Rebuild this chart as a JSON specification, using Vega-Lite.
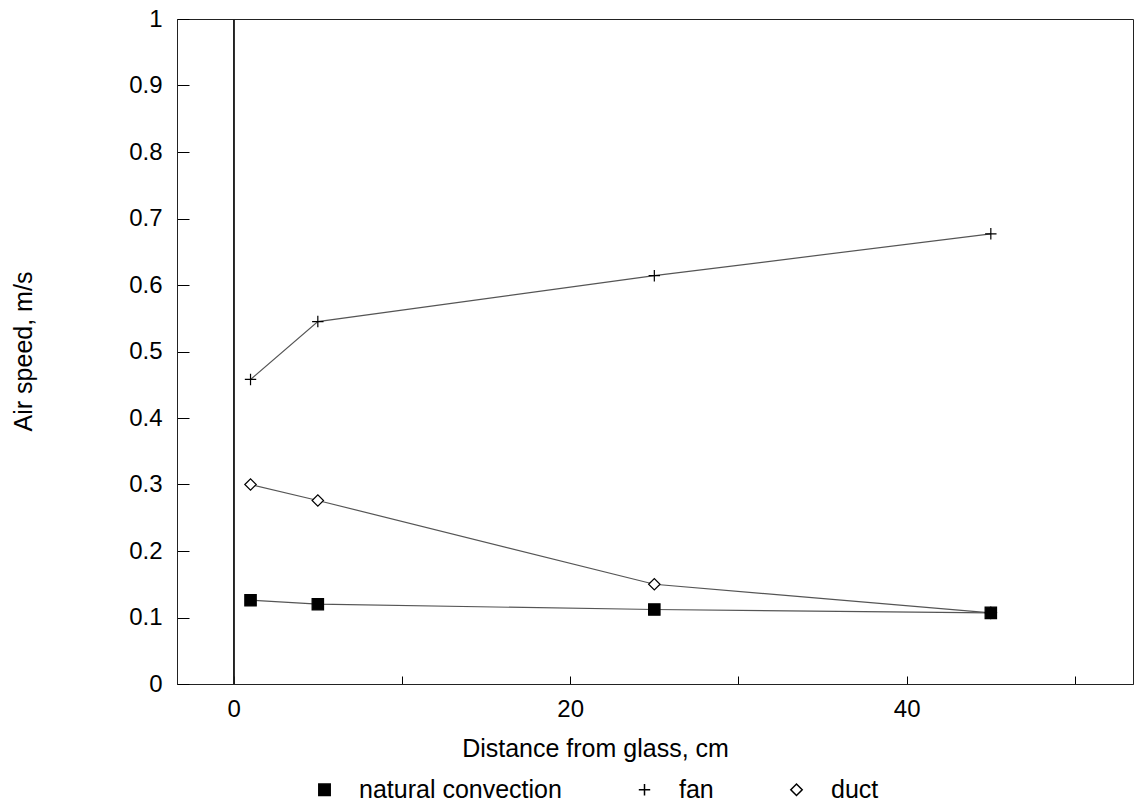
{
  "$schema": "https://vega.github.io/schema/vega-lite/v6.json",
  "width": 956,
  "height": 665,
  "autosize": {"type": "none"},
  "padding": {"left": 177, "top": 19, "right": 2, "bottom": 122},
  "background": "white",
  "config": {
    "font": "Liberation Sans",
    "view": {"stroke": "#222222", "strokeWidth": 1},
    "axis": {"grid": false, "domainColor": "#222222", "tickColor": "black", "labelColor": "black", "titleColor": "black", "labelFont": "Liberation Sans", "titleFont": "Liberation Sans", "labelFontSize": 24, "titleFontSize": 25, "titleFontWeight": "normal"}
  },
  "data": {
    "values": [
      {"series": "fan", "distance": 1, "speed": 0.458},
      {"series": "fan", "distance": 5, "speed": 0.545},
      {"series": "fan", "distance": 25, "speed": 0.614},
      {"series": "fan", "distance": 45, "speed": 0.677},
      {"series": "duct", "distance": 1, "speed": 0.3},
      {"series": "duct", "distance": 5, "speed": 0.276},
      {"series": "duct", "distance": 25, "speed": 0.15},
      {"series": "duct", "distance": 45, "speed": 0.107},
      {"series": "natural convection", "distance": 1, "speed": 0.126},
      {"series": "natural convection", "distance": 5, "speed": 0.12},
      {"series": "natural convection", "distance": 25, "speed": 0.112},
      {"series": "natural convection", "distance": 45, "speed": 0.107}
    ]
  },
  "layer": [
    {
      "mark": {"type": "rule", "color": "#222222", "strokeWidth": 1},
      "encoding": {"x": {"datum": 0, "type": "quantitative", "scale": {"domain": [-3.37, 53.45], "nice": false, "zero": false}}}
    },
    {
      "mark": {"type": "line", "color": "#555555", "strokeWidth": 1.2},
      "encoding": {
        "x": {"field": "distance", "type": "quantitative"},
        "y": {"field": "speed", "type": "quantitative"},
        "detail": {"field": "series"}
      }
    },
    {
      "mark": {"type": "point", "filled": false, "stroke": "black", "strokeWidth": 1.2, "opacity": 1, "size": 130},
      "encoding": {
        "x": {
          "field": "distance", "type": "quantitative",
          "scale": {"domain": [-3.37, 53.45], "nice": false, "zero": false},
          "axis": {"title": "Distance from glass, cm", "values": [0, 10, 20, 30, 40, 50], "labelExpr": "datum.value % 20 == 0 ? datum.label : ''", "tickSize": -8, "labelPadding": 21, "domain": true, "titleX": 418, "titleY": 64, "titleBaseline": "middle", "titleAnchor": null, "titleAlign": "center"}
        },
        "y": {
          "field": "speed", "type": "quantitative",
          "scale": {"domain": [0, 1], "nice": false},
          "axis": {"title": "Air speed, m/s", "values": [0, 0.1, 0.2, 0.3, 0.4, 0.5, 0.6, 0.7, 0.8, 0.9, 1], "format": ".1~f", "tickSize": -12, "labelPadding": 27, "titleX": -154, "titleY": 332, "titleAngle": -90, "titleBaseline": "middle", "titleAlign": "center"}
        },
        "shape": {
          "field": "series", "type": "nominal",
          "scale": {"domain": ["natural convection", "fan", "duct"], "range": ["square", "M-1,0H1M0,-1V1", "diamond"]},
          "legend": {
            "title": null, "orient": "none", "direction": "horizontal", "legendX": 135, "legendY": 758,
            "labelFontSize": 25, "labelColor": "black", "labelFont": "Liberation Sans", "labelLimit": 400,
            "labelOffset": 22, "columnPadding": 70, "symbolSize": 130,
            "labelExpr": "datum.label == 'fan' ? 'fan        ' : datum.label",
            "encode": {"symbols": {"update": {"stroke": {"value": "black"}, "strokeWidth": {"value": 1.2}, "fill": {"signal": "datum.value == 'natural convection' ? 'black' : 'transparent'"}, "opacity": {"value": 1}}}}
          }
        },
        "fill": {
          "field": "series", "type": "nominal",
          "scale": {"domain": ["natural convection", "fan", "duct"], "range": ["black", "white", "white"]},
          "legend": null
        }
      }
    }
  ]
}
